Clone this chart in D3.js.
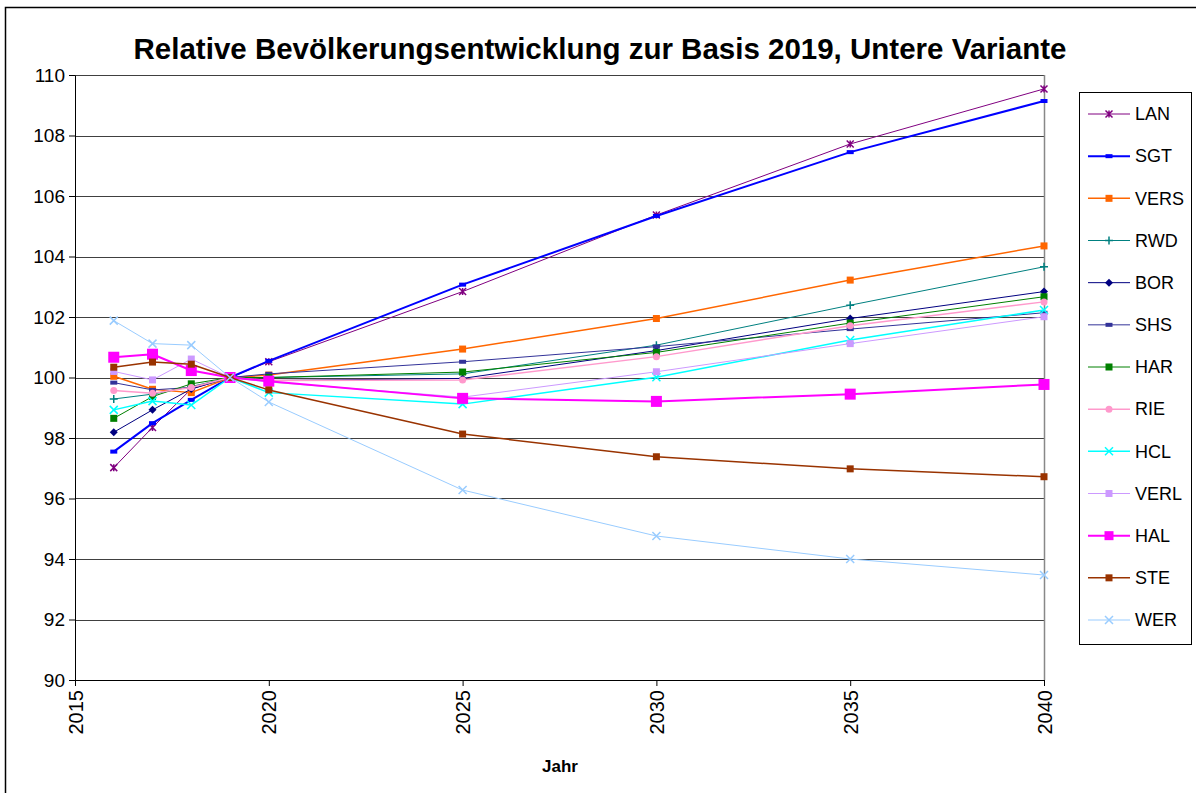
<!DOCTYPE html>
<html><head><meta charset="utf-8">
<script src="https://cdn.jsdelivr.net/npm/d3@7"></script>
<style>body{margin:0;background:#fff;} svg{display:block;}</style>
</head><body>
<svg id="chart" width="1196" height="793"></svg>
<script>
const years = [2016, 2017, 2018, 2019, 2020, 2025, 2030, 2035, 2040];
const xTicks = [2015, 2020, 2025, 2030, 2035, 2040];
const yTicks = [90, 92, 94, 96, 98, 100, 102, 104, 106, 108, 110];
const seriesNames = ["LAN","SGT","VERS","RWD","BOR","SHS","HAR","RIE","HCL","VERL","HAL","STE","WER"];
const LAN  = [97.02, 98.35, 99.62, 100, 100.52, 102.84, 105.37, 107.72, 109.54];
const SGT  = [97.55, 98.49, 99.26, 100, 100.55, 103.07, 105.34, 107.45, 109.14];
const VERS = [100.04, 99.61, 99.50, 100, 100.08, 100.94, 101.95, 103.22, 104.35];
const RWD  = [99.29, 99.45, 99.70, 100, 100.00, 100.12, 101.07, 102.39, 103.66];
const BOR  = [98.19, 98.93, 99.62, 100, 99.90, 99.97, 100.89, 101.95, 102.84];
const SHS  = [99.83, 99.59, 99.67, 100, 100.12, 100.52, 101.02, 101.60, 102.14];
const HAR  = [98.65, 99.37, 99.79, 100, 100.00, 100.18, 100.83, 101.80, 102.67];
const RIE  = [99.57, 99.48, 99.67, 100, 99.90, 99.92, 100.69, 101.71, 102.50];
const HCL  = [98.93, 99.22, 99.09, 100, 99.50, 99.12, 100.01, 101.24, 102.23];
const VERL = [100.20, 99.92, 100.61, 100, 99.85, 99.35, 100.19, 101.12, 102.01];
const HAL  = [100.67, 100.77, 100.23, 100, 99.88, 99.31, 99.21, 99.45, 99.77];
const STE  = [100.34, 100.51, 100.44, 100, 99.59, 98.13, 97.38, 96.98, 96.72];
const WER  = [101.88, 101.12, 101.07, 100, 99.19, 96.28, 94.76, 94.00, 93.47];
const seriesValues = [LAN, SGT, VERS, RWD, BOR, SHS, HAR, RIE, HCL, VERL, HAL, STE, WER];

const styles = {
  LAN:  {color:"#800080", w:1,   m:"star",    s:7},
  SGT:  {color:"#0000FF", w:2,   m:"dash",    s:7},
  VERS: {color:"#FF6600", w:1.5, m:"square",  s:7},
  RWD:  {color:"#008080", w:1,   m:"plus",    s:8},
  BOR:  {color:"#000080", w:1,   m:"diamond", s:8},
  SHS:  {color:"#333399", w:1,   m:"dash",    s:7},
  HAR:  {color:"#008000", w:1,   m:"square",  s:7},
  RIE:  {color:"#FF99CC", w:1.5, m:"circle",  s:7},
  HCL:  {color:"#00FFFF", w:1.5, m:"x",       s:8},
  VERL: {color:"#CC99FF", w:1,   m:"square",  s:7},
  HAL:  {color:"#FF00FF", w:2,   m:"square",  s:11},
  STE:  {color:"#993300", w:1.5, m:"square",  s:7},
  WER:  {color:"#99CCFF", w:1,   m:"x",       s:8}
};

const svg = d3.select("#chart");
const FONT = "'Liberation Sans', Arial, sans-serif";

// outer frame
svg.append("rect").attr("x",5.5).attr("y",7.5).attr("width",1300).attr("height",900)
  .attr("fill","none").attr("stroke","#000").attr("stroke-width",1.5);

const x = d3.scaleLinear().domain([2015, 2040]).range([75, 1044]);
const y = d3.scaleLinear().domain([90, 110]).range([680, 75]);

// gridlines
svg.append("g").selectAll("line").data(yTicks.filter(d=>d>90)).join("line")
  .attr("x1",x(2015)).attr("x2",x(2040))
  .attr("y1",d=>Math.round(y(d))+0.5).attr("y2",d=>Math.round(y(d))+0.5)
  .attr("stroke","#404040").attr("stroke-width",1);

// right border of plot area
svg.append("line").attr("x1",x(2040)+0.5).attr("x2",x(2040)+0.5)
  .attr("y1",y(110)).attr("y2",y(90)).attr("stroke","#888").attr("stroke-width",1.5);

// axes
const yAxis = d3.axisLeft(y).tickValues(yTicks).tickSize(6).tickSizeOuter(0).tickPadding(4);
const gy = svg.append("g").attr("transform",`translate(${x(2015)},0)`).call(yAxis);
gy.selectAll("text").attr("font-family",FONT).attr("font-size",19).attr("fill","#000");
gy.select(".domain").attr("stroke","#000");
gy.selectAll(".tick line").attr("stroke","#000");

const xAxis = d3.axisBottom(x).tickValues(xTicks).tickFormat(d3.format("d")).tickSize(6).tickSizeOuter(0);
const gx = svg.append("g").attr("transform",`translate(0,${y(90)})`).call(xAxis);
gx.select(".domain").attr("stroke","#000");
gx.selectAll(".tick line").attr("stroke","#000");
gx.selectAll("text").attr("font-family",FONT).attr("font-size",20).attr("fill","#000")
  .attr("transform","rotate(-90)").attr("text-anchor","end")
  .attr("x",-10).attr("y",0).attr("dy","0.35em");

// marker drawer
function marker(g, type, color, s){
  const h = s/2;
  if(type==="square"){
    g.append("rect").attr("x",-h).attr("y",-h).attr("width",s).attr("height",s).attr("fill",color);
  } else if(type==="dash"){
    g.append("rect").attr("x",-h).attr("y",-2).attr("width",s).attr("height",4).attr("fill",color);
  } else if(type==="circle"){
    g.append("circle").attr("r",h).attr("fill",color);
  } else if(type==="diamond"){
    g.append("path").attr("d",`M0,${-h}L${h},0L0,${h}L${-h},0Z`).attr("fill",color);
  } else if(type==="plus"){
    g.append("path").attr("d",`M${-h},0H${h}M0,${-h}V${h}`).attr("stroke",color).attr("stroke-width",1.5);
  } else if(type==="x"){
    g.append("path").attr("d",`M${-h},${-h}L${h},${h}M${-h},${h}L${h},${-h}`).attr("stroke",color).attr("stroke-width",1.5);
  } else if(type==="star"){
    g.append("path").attr("d",`M${-h},${-h}L${h},${h}M${-h},${h}L${h},${-h}M0,${-h}V${h}`).attr("stroke",color).attr("stroke-width",1.5);
  }
}

const line = d3.line().x((d,i)=>x(years[i])).y(d=>y(d));
const plot = svg.append("g");
seriesNames.forEach((name, k)=>{
  const st = styles[name];
  const vals = seriesValues[k];
  plot.append("path").attr("d", line(vals)).attr("fill","none")
    .attr("stroke", st.color).attr("stroke-width", st.w).attr("stroke-linejoin","round");
  vals.forEach((v,i)=>{
    const g = plot.append("g").attr("transform",`translate(${x(years[i])},${y(v)})`);
    marker(g, st.m, st.color, st.s);
  });
});

// title
svg.append("text").attr("x",600).attr("y",59).attr("text-anchor","middle")
  .attr("font-family",FONT).attr("font-weight","bold").attr("font-size",29.5)
  .text("Relative Bevölkerungsentwicklung zur Basis 2019, Untere Variante");

// x axis title
svg.append("text").attr("x",560).attr("y",772).attr("text-anchor","middle")
  .attr("font-family",FONT).attr("font-weight","bold").attr("font-size",17)
  .text("Jahr");

// legend
const lg = svg.append("g");
lg.append("rect").attr("x",1079.5).attr("y",92.5).attr("width",112).attr("height",552)
  .attr("fill","#fff").attr("stroke","#000").attr("stroke-width",1);
const ly = d3.scalePoint().domain(seriesNames).range([114, 620]);
seriesNames.forEach(name=>{
  const st = styles[name];
  const g = lg.append("g").attr("transform",`translate(0,${ly(name)})`);
  g.append("line").attr("x1",1088).attr("x2",1130).attr("y1",0).attr("y2",0)
    .attr("stroke",st.color).attr("stroke-width",st.w);
  const mg = g.append("g").attr("transform","translate(1109,0)");
  marker(mg, st.m, st.color, Math.min(st.s, 9));
  g.append("text").attr("x",1135).attr("y",0).attr("dy","0.35em")
    .attr("font-family",FONT).attr("font-size",18).text(name);
});
</script>
</body></html>
